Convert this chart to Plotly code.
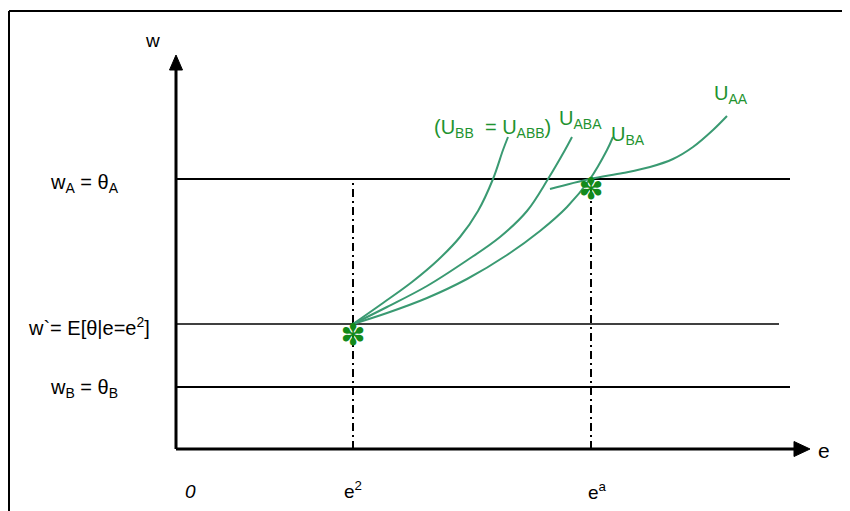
import plotly.graph_objects as go

# ---- data (diagram units: origin at the axes' corner) ----
W_LEVELS = {"wA": 270, "wprime": 125, "wB": 62}
E_LEVELS = {"e2": 177, "ea": 415}

curve_bb_e = [177, 207, 236, 262, 284, 302, 317, 327, 332]
curve_bb_w = [125, 146, 167, 189, 212, 238, 270, 299, 312]

curve_aba_e = [177, 211, 251, 290, 324, 351, 372, 389, 396]
curve_aba_w = [125, 142, 163, 188, 212, 238, 270, 299, 312]

curve_ba_e = [177, 211, 251, 291, 331, 364, 391, 414, 431, 437]
curve_ba_w = [125, 136, 151, 170, 194, 218, 242, 270, 299, 312]

curve_aa_e = [374, 414, 447, 474, 497, 517, 537, 551]
curve_aa_w = [260, 270, 276, 282, 290, 302, 319, 333]

star_e = [177, 415]
star_w = [112, 258]

w_labels = ["w<sub>A</sub> = θ<sub>A</sub>", "w`= E[θ|e=e<sup>2</sup>]", "w<sub>B</sub> = θ<sub>B</sub>"]
w_label_pos = [(-128, 266), (-150, 123), (-128, 61)]
e_labels = ["<i>0</i>", "e<sup>2</sup>", "e<sup>a</sup>"]
e_label_pos = [(14, -42), (177, -41), (421, -42)]
u_labels = ["(U<sub>BB</sub>  = U<sub>ABB</sub>)", "U<sub>ABA</sub>", "U<sub>BA</sub>", "U<sub>AA</sub>"]
u_label_pos = [(256, 321), (381, 330), (433, 314), (536, 355)]

# page body has an 8px margin, so the figure starts 8px right/down
X_RANGE = [-168, 682]
Y_RANGE = [-70, 441]

GREEN_LINE = "#3a9a72"
GREEN_TEXT = "#1f9330"
GREEN_STAR = "#138a1a"
FONT = "Liberation Sans, Arial, sans-serif"

fig = go.Figure()

def line(x, y, width=2, color="black", dash="solid", shape="linear"):
    kw = dict(color=color, width=width, dash=dash, shape=shape)
    if shape == "spline":
        kw["smoothing"] = 1.0
    fig.add_trace(go.Scatter(x=x, y=y, mode="lines", line=kw,
                             hoverinfo="skip", showlegend=False))

# horizontal levels
line([0, 614], [W_LEVELS["wA"]] * 2, width=2)
line([0, 603], [W_LEVELS["wprime"]] * 2, width=1.3)
line([0, 614], [W_LEVELS["wB"]] * 2, width=2)

# vertical dash-dot lines
for k in ["e2", "ea"]:
    line([E_LEVELS[k]] * 2, [0, W_LEVELS["wA"]], width=2, dash="8px,4px,2px,4px")

# axes
line([0, 0], [0, 380], width=3)
line([0, 620], [0, 0], width=3)
fig.add_trace(go.Scatter(x=[-6.5, 6.5, 0, -6.5], y=[379, 379, 394, 379], mode="lines",
                         fill="toself", fillcolor="black", line=dict(color="black", width=1),
                         hoverinfo="skip", showlegend=False))
fig.add_trace(go.Scatter(x=[618, 618, 634, 618], y=[-7.5, 7.5, 0, -7.5], mode="lines",
                         fill="toself", fillcolor="black", line=dict(color="black", width=1),
                         hoverinfo="skip", showlegend=False))

# curves
for xs, ys in [(curve_bb_e, curve_bb_w), (curve_aba_e, curve_aba_w),
               (curve_ba_e, curve_ba_w), (curve_aa_e, curve_aa_w)]:
    line(xs, ys, width=2, color=GREEN_LINE, shape="spline")

# stars
fig.add_trace(go.Scatter(x=star_e, y=star_w, mode="text", text=["✽", "✽"],
                         textfont=dict(family="DejaVu Sans", size=30, color=GREEN_STAR),
                         hoverinfo="skip", showlegend=False))

ann = []
for t, (x, y) in zip(w_labels, w_label_pos):
    ann.append(dict(x=x, y=y, text=t, xanchor="left", yanchor="middle", showarrow=False,
                    font=dict(family=FONT, size=20, color="black")))
for t, (x, y) in zip(e_labels, e_label_pos):
    ann.append(dict(x=x, y=y, text=t, xanchor="center", yanchor="middle", showarrow=False,
                    font=dict(family=FONT, size=19, color="black")))
ann.append(dict(x=640, y=-1, text="e", xanchor="left", yanchor="middle", showarrow=False,
                font=dict(family=FONT, size=21, color="black")))
ann.append(dict(x=-24, y=409, text="w", xanchor="center", yanchor="middle", showarrow=False,
                font=dict(family=FONT, size=19, color="black")))
for t, (x, y) in zip(u_labels, u_label_pos):
    ann.append(dict(x=x, y=y, text=t, xanchor="left", yanchor="middle", showarrow=False,
                    font=dict(family=FONT, size=20, color=GREEN_TEXT)))

shapes = [
    dict(type="line", xref="paper", yref="paper", x0=1 / 850, x1=1, y0=1 - 3 / 511, y1=1 - 3 / 511,
         line=dict(color="black", width=2)),
    dict(type="line", xref="paper", yref="paper", x0=1 / 850, x1=1 / 850, y0=0, y1=1 - 3 / 511,
         line=dict(color="black", width=2)),
]

fig.update_layout(
    width=850, height=511,
    margin=dict(l=0, r=0, t=0, b=0),
    paper_bgcolor="white", plot_bgcolor="white",
    xaxis=dict(range=X_RANGE, visible=False, fixedrange=True),
    yaxis=dict(range=Y_RANGE, visible=False, fixedrange=True),
    annotations=ann, shapes=shapes, showlegend=False,
)

fig.write_html("out.html")
